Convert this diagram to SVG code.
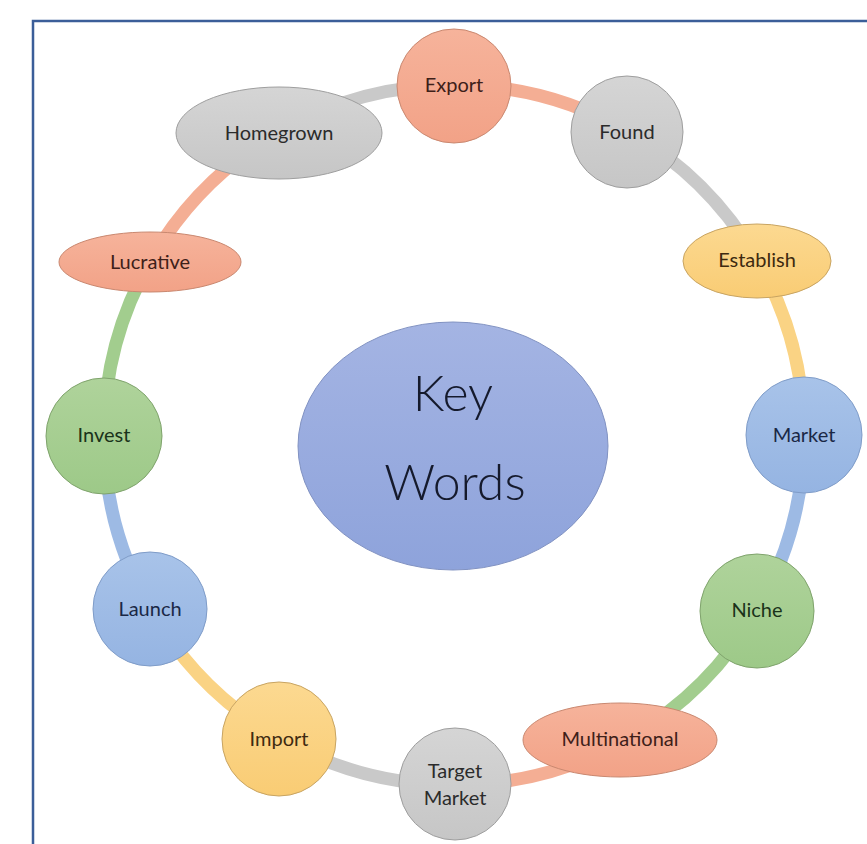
<svg xmlns="http://www.w3.org/2000/svg" width="867" height="844" viewBox="0 0 867 844">
<defs>
<linearGradient id="gSalmon" x1="0" y1="0" x2="0" y2="1"><stop offset="0" stop-color="#F6B39B"/><stop offset="1" stop-color="#F2A287"/></linearGradient>
<linearGradient id="gGray" x1="0" y1="0" x2="0" y2="1"><stop offset="0" stop-color="#D5D5D5"/><stop offset="1" stop-color="#C6C6C6"/></linearGradient>
<linearGradient id="gYellow" x1="0" y1="0" x2="0" y2="1"><stop offset="0" stop-color="#FCD991"/><stop offset="1" stop-color="#F9CC74"/></linearGradient>
<linearGradient id="gBlue" x1="0" y1="0" x2="0" y2="1"><stop offset="0" stop-color="#A8C3E9"/><stop offset="1" stop-color="#95B4E2"/></linearGradient>
<linearGradient id="gGreen" x1="0" y1="0" x2="0" y2="1"><stop offset="0" stop-color="#AFD39B"/><stop offset="1" stop-color="#9DC988"/></linearGradient>
<linearGradient id="gKey" x1="0" y1="0" x2="0" y2="1"><stop offset="0" stop-color="#A4B4E3"/><stop offset="1" stop-color="#8EA3DB"/></linearGradient>
</defs>
<style>
.arc{fill:none;stroke-width:13}
.cg{stroke:#C9C9C9}.cs{stroke:#F4AE94}.cy{stroke:#FAD384}.cb{stroke:#9DBAE4}.cn{stroke:#A2CD8E}
.salmon{fill:url(#gSalmon);stroke:#C98870;stroke-width:1}
.gray{fill:url(#gGray);stroke:#9E9E9E;stroke-width:1}
.yellow{fill:url(#gYellow);stroke:#C8A462;stroke-width:1}
.blue{fill:url(#gBlue);stroke:#7F9CC8;stroke-width:1}
.green{fill:url(#gGreen);stroke:#7FA36C;stroke-width:1}
.key{fill:url(#gKey);stroke:#8192C2;stroke-width:1}
text{font-family:Lato,"Noto Sans",sans-serif;font-size:20px;text-anchor:middle}
.ts{fill:#3E2019}.tg{fill:#2B2B2B}.ty{fill:#3E2A10}.tb{fill:#1A2846}.tn{fill:#1A331A}
.big{font-size:50px;font-weight:300;fill:#151a2c}
</style>
<path d="M33,844 V21 H867" fill="none" stroke="#3B5E99" stroke-width="2.5"/>
<g id="connectors">
<path class="arc cg" d="M279,131.9 A350,350 0 0 1 454,85"/>
<path class="arc cs" d="M454,85 A350,350 0 0 1 629,131.9"/>
<path class="arc cg" d="M629,131.9 A350,350 0 0 1 757.1,260"/>
<path class="arc cy" d="M757.1,260 A350,350 0 0 1 804,435"/>
<path class="arc cb" d="M804,435 A350,350 0 0 1 757.1,610"/>
<path class="arc cn" d="M757.1,610 A350,350 0 0 1 629,738.1"/>
<path class="arc cs" d="M629,738.1 A350,350 0 0 1 454,785"/>
<path class="arc cg" d="M454,785 A350,350 0 0 1 279,738.1"/>
<path class="arc cy" d="M279,738.1 A350,350 0 0 1 150.9,610"/>
<path class="arc cb" d="M150.9,610 A350,350 0 0 1 104,435"/>
<path class="arc cn" d="M104,435 A350,350 0 0 1 150.9,260"/>
<path class="arc cs" d="M150.9,260 A350,350 0 0 1 279,131.9"/>
</g>
<g id="keywords"><ellipse class="key" cx="453" cy="446" rx="155" ry="124"/><text class="big" x="453" y="411">Key</text><text class="big" x="455" y="500">Words</text></g>
<g id="export"><circle class="salmon" cx="454" cy="86" r="57"/><text class="ts" x="454" y="92">Export</text></g>
<g id="found"><circle class="gray" cx="627" cy="132" r="56"/><text class="tg" x="627" y="139">Found</text></g>
<g id="homegrown"><ellipse class="gray" cx="279" cy="133" rx="103" ry="46"/><text class="tg" x="279" y="140">Homegrown</text></g>
<g id="lucrative"><ellipse class="salmon" cx="150" cy="262" rx="91" ry="30"/><text class="ts" x="150" y="269">Lucrative</text></g>
<g id="establish"><ellipse class="yellow" cx="757" cy="261" rx="74" ry="37"/><text class="ty" x="757" y="267">Establish</text></g>
<g id="market"><circle class="blue" cx="804" cy="435" r="58"/><text class="tb" x="804" y="442">Market</text></g>
<g id="invest"><circle class="green" cx="104" cy="436" r="58"/><text class="tn" x="104" y="442">Invest</text></g>
<g id="launch"><circle class="blue" cx="150" cy="609" r="57"/><text class="tb" x="150" y="616">Launch</text></g>
<g id="niche"><circle class="green" cx="757" cy="611" r="57"/><text class="tn" x="757" y="617">Niche</text></g>
<g id="import"><circle class="yellow" cx="279" cy="739" r="57"/><text class="ty" x="279" y="746">Import</text></g>
<g id="targetmarket"><circle class="gray" cx="455" cy="784" r="56"/><text class="tg" x="455" y="778">Target</text><text class="tg" x="455" y="805">Market</text></g>
<g id="multinational"><ellipse class="salmon" cx="620" cy="740" rx="97" ry="37"/><text class="ts" x="620" y="746">Multinational</text></g>
</svg>
